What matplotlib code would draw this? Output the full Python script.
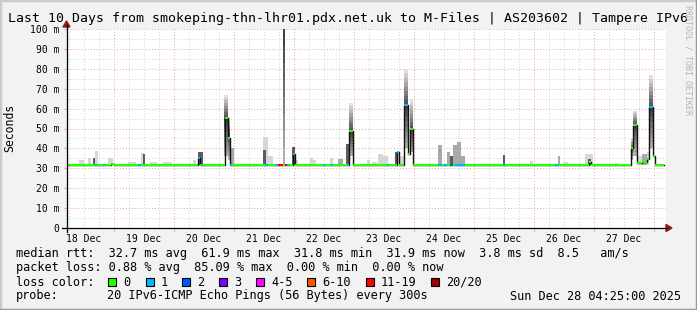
"""
SmokePing : 10 derniers jours, smokeping-thn-lhr01 -> M-Files (Tampere IPv6).
Fumee grise (dispersion des pings) + ligne mediane coloree selon la perte.
Sortie : out.png (697x310).
"""
import numpy as np
import matplotlib
matplotlib.use("Agg")
import matplotlib.pyplot as plt
from matplotlib.collections import LineCollection
from matplotlib.patches import Rectangle, Polygon

# axe x : heures depuis le 18 Dec 00:00
T_START, T_END = 5.0, 244.8
DATA_END = 244.0
DAYS = ["18 Dec", "19 Dec", "20 Dec", "21 Dec", "22 Dec",
        "23 Dec", "24 Dec", "25 Dec", "26 Dec", "27 Dec"]
MED_BASE = 31.5  # ms

# petites fumees : debut (h), fin (h), haut (ms), teinte
bump_start = [10.0, 13.6, 15.6, 16.4, 21.6, 29.6, 34.8, 35.6, 38.4, 43.6,
              55.6, 57.6, 70.4, 83.6, 83.6, 85.6, 95.2, 96.4, 102.4, 103.6,
              110.4, 113.6, 116.8, 125.2, 127.2, 129.6, 131.6, 136.4, 138.4, 153.6,
              157.2, 158.4, 159.6, 161.2, 162.8, 179.6, 190.4, 201.6, 203.6, 212.4,
              213.6, 224.4, 233.2, 235.2, 237.2]
bump_end = [12.0, 14.8, 16.4, 17.6, 23.6, 32.8, 36.0, 36.4, 41.2, 47.2,
            56.8, 59.6, 72.0, 85.6, 84.8, 87.6, 96.4, 97.6, 103.6, 104.8,
            111.6, 115.6, 118.0, 126.4, 129.2, 131.6, 133.6, 137.2, 140.0, 155.2,
            158.4, 159.6, 161.2, 162.8, 164.4, 180.4, 191.6, 202.4, 205.6, 215.6,
            214.8, 225.6, 235.2, 237.2, 238.0]
bump_top = [34.0, 35.3, 35.3, 38.5, 35.3, 33.2, 37.5, 37.0, 33.0, 33.0,
            34.0, 38.2, 40.0, 45.7, 39.0, 36.0, 40.7, 34.0, 35.0, 34.0,
            35.0, 34.5, 42.0, 34.0, 33.0, 37.0, 36.0, 38.0, 36.0, 41.5,
            38.0, 36.0, 41.5, 43.0, 36.0, 36.5, 33.5, 36.0, 33.0, 37.0,
            34.5, 32.5, 36.0, 37.0, 38.0]
bump_tone = ["light", "light", "dark", "light", "light", "light", "light", "dark", "light", "light",
             "light", "dark", "mid", "light", "dark", "light", "dark", "light", "light", "light",
             "light", "mid", "dark", "light", "light", "light", "light", "dark", "light", "mid",
             "mid", "dark", "mid", "mid", "mid", "dark", "light", "mid", "light", "light",
             "dark", "light", "light", "mid", "light"]

# grosses fumees : debut, fin, bas, coeur (sombre), haut
spike_start = [68.0, 69.6, 91.6, 118.0, 140.0, 142.4, 230.8, 231.6, 238.0]
spike_end = [69.6, 70.4, 92.4, 119.6, 141.6, 143.6, 231.6, 233.2, 239.6]
spike_lo = [36.0, 34.0, 31.5, 36.0, 40.0, 38.0, 34.0, 36.0, 40.0]
spike_core = [55.5, 48.0, 100.0, 48.5, 62.0, 49.5, 40.0, 52.0, 61.0]
spike_hi = [67.0, 56.0, 100.0, 63.0, 80.0, 65.0, 45.0, 59.0, 77.0]

# mediane hors ligne de base : debut, fin, valeur (ms), classe de perte
med_start = [16.4, 19.6, 22.8, 33.6, 57.6, 58.8, 68.4, 69.6, 70.4, 84.4,
             88.4, 89.6, 92.4, 93.2, 95.6, 107.6, 110.8, 117.2, 118.0, 133.2,
             137.2, 140.0, 141.6, 142.4, 153.6, 156.0, 158.4, 160.4, 179.6, 200.4,
             214.0, 230.8, 231.6, 233.2, 235.2, 237.2, 238.0, 239.6]
med_end = [17.2, 20.4, 24.0, 34.8, 58.4, 59.6, 69.6, 70.4, 71.2, 85.6,
           89.6, 91.6, 93.2, 94.0, 96.4, 108.4, 111.6, 118.0, 119.6, 134.0,
           138.0, 141.6, 142.4, 143.6, 155.2, 157.2, 159.6, 164.4, 180.4, 201.6,
           214.8, 231.6, 233.2, 235.2, 237.2, 238.0, 239.6, 240.4]
med_val = [31.5, 31.5, 32.3, 31.5, 35.0, 31.5, 55.5, 45.0, 31.5, 31.5,
           31.5, 31.5, 31.5, 31.5, 37.0, 31.5, 31.5, 31.5, 48.5, 31.5,
           38.0, 62.0, 37.0, 49.5, 31.5, 31.5, 31.5, 31.5, 31.5, 31.5,
           33.0, 40.0, 52.0, 32.5, 33.0, 34.5, 61.0, 36.0]
med_loss = [1, 1, 0, 1, 1, 1, 0, 0, 1, 1,
            1, 6, 6, 1, 1, 1, 1, 1, 0, 1,
            1, 1, 0, 0, 1, 1, 2, 1, 1, 1,
            0, 0, 0, 0, 0, 0, 1, 0]

LOSS_LABELS = ["0", "1", "2", "3", "4-5", "6-10", "11-19", "20/20"]
LOSS_COLORS = ["#26ff00", "#00b8ff", "#0059ff", "#7e00ff",
               "#ff00ff", "#ff5500", "#ff0000", "#a10000"]
LOSS_BOX_X = [108, 146, 182, 219, 256, 307, 366, 431]

TONES = {"light": "#d6d6d6", "mid": "#a9a9a9", "dark": "#5c5c5c"}

W, H = 697, 310
MONO = "DejaVu Sans Mono"
LEG = 8.55


def fx(x):
    return x / W


def fy(y):
    return 1 - y / H


fig = plt.figure(figsize=(W / 100, H / 100), dpi=100, facecolor="#f2f2f2")
ax = fig.add_axes([fx(66.5), fy(228), (666 - 66.5) / W, (228 - 29) / H])
ax.set_facecolor("white")
ax.set_xlim(T_START, T_END)
ax.set_ylim(0, 100)
for sp in ax.spines.values():
    sp.set_visible(False)

# grille
for h in np.arange(0, 250, 6):
    if T_START < h < T_END:
        major = h % 24 == 0
        ax.axvline(h, color="#f0a0a0" if major else "#d0d0d0", lw=0.7,
                   ls=(0, (1, 2)), zorder=0)
for v in range(5, 101, 5):
    major = v % 10 == 0
    ax.axhline(v, color="#f0a0a0" if major else "#d0d0d0", lw=0.7,
               ls=(0, (1, 2)), zorder=0)

# fumee
for s, e, top, tone in zip(bump_start, bump_end, bump_top, bump_tone):
    ax.bar(s, top - MED_BASE, width=e - s, bottom=MED_BASE, align="edge",
           color=TONES[tone], edgecolor="none", zorder=1)

n = 8
for s, e, lo, core, hi in zip(spike_start, spike_end, spike_lo, spike_core, spike_hi):
    ed = np.linspace(lo, core, n + 1)
    for k in range(n):
        g = 0.75 - 0.5 * (k + 1) / n
        ax.bar(s, ed[k + 1] - ed[k], width=e - s, bottom=ed[k], align="edge",
               color=(g, g, g), edgecolor="none", zorder=2)
    if hi > core:
        ed = np.linspace(core, hi, n + 1)
        for k in range(n):
            g = 0.25 + 0.63 * (k + 1) / n
            ax.bar(s, ed[k + 1] - ed[k], width=e - s, bottom=ed[k], align="edge",
                   color=(g, g, g), edgecolor="none", zorder=2)

# mediane
pieces = []
cur = T_START
for s, e, v, l in sorted(zip(med_start, med_end, med_val, med_loss)):
    if s > cur:
        pieces.append((cur, s, MED_BASE, 0))
    pieces.append((s, e, v, l))
    cur = e
pieces.append((cur, DATA_END, MED_BASE, 0))

xs, ys = [], []
for a, b, v, l in pieces:
    xs += [a, b]
    ys += [v, v]
ax.plot(xs, ys, color="#111111", lw=1.0, zorder=3)
segs = [[(a, v), (b, v)] for a, b, v, l in pieces]
cols = [LOSS_COLORS[l] for a, b, v, l in pieces]
ax.add_collection(LineCollection(segs, colors=cols, linewidths=1.5,
                                 capstyle="butt", zorder=4))

# axes
ax.set_yticks(range(0, 101, 10))
ax.set_yticklabels(["0"] + [f"{v} m" for v in range(10, 101, 10)],
                   family=MONO, fontsize=7)
ax.tick_params(axis="y", length=2, width=0.8, color="#f0a0a0", pad=3)
ax.set_xticks(np.arange(24, 241, 24))
ax.set_xticklabels([])
ax.set_xticks(np.arange(12, 240, 24), minor=True)
ax.set_xticklabels(DAYS, minor=True, family=MONO, fontsize=7)
ax.tick_params(axis="x", which="major", length=2, width=0.8, color="#f0a0a0")
ax.tick_params(axis="x", which="minor", length=0, pad=4)

fig.add_artist(plt.Line2D([fx(62), fx(667)], [fy(228), fy(228)], color="black", lw=0.9))
fig.add_artist(plt.Line2D([fx(66.5), fx(66.5)], [fy(232), fy(25)], color="black", lw=0.9))
fig.add_artist(Polygon([(fx(672), fy(228)), (fx(666), fy(224.5)), (fx(666), fy(231.5))],
                       closed=True, color="#8b1a1a", transform=fig.transFigure))
fig.add_artist(Polygon([(fx(66.5), fy(21)), (fx(63), fy(27)), (fx(70), fy(27))],
                       closed=True, color="#8b1a1a", transform=fig.transFigure))

# textes
fig.text(fx(8), fy(18.5), "Last 10 Days from smokeping-thn-lhr01.pdx.net.uk to M-Files"
         " | AS203602 | Tampere IPv6", family=MONO, fontsize=9.5, va="center")
fig.text(fx(10), fy(128), "Seconds", family=MONO, fontsize=8.3, rotation=90,
         ha="center", va="center")
fig.text(fx(688), fy(5), "RRDTOOL / TOBI OETIKER", family=MONO, fontsize=6,
         rotation=270, ha="center", va="top", color="#b4b4b4")

lines = [
    "median rtt:  32.7 ms avg  61.9 ms max  31.8 ms min  31.9 ms now  3.8 ms sd  8.5   am/s",
    "packet loss: 0.88 % avg  85.09 % max  0.00 % min  0.00 % now",
]
for i, t in enumerate(lines):
    fig.text(fx(16), fy(254 + 14 * i), t, family=MONO, fontsize=LEG, va="center")
fig.text(fx(16), fy(282), "loss color:", family=MONO, fontsize=LEG, va="center")
for bx, lab, col in zip(LOSS_BOX_X, LOSS_LABELS, LOSS_COLORS):
    fig.add_artist(Rectangle((fx(bx), fy(286)), 8 / W, 8 / H, facecolor=col,
                             edgecolor="black", lw=0.8, transform=fig.transFigure))
    fig.text(fx(bx + 15), fy(282), lab, family=MONO, fontsize=LEG, va="center")
fig.text(fx(16), fy(296), "probe:", family=MONO, fontsize=LEG, va="center")
fig.text(fx(107), fy(296), "20 IPv6-ICMP Echo Pings (56 Bytes) every 300s",
         family=MONO, fontsize=LEG, va="center")
fig.text(fx(681), fy(296), "Sun Dec 28 04:25:00 2025", family=MONO, fontsize=LEG,
         va="center", ha="right")

# cadre
fig.add_artist(plt.Line2D([0, 0, 1], [0, 1, 1], color="#cbcbcb", lw=2.5))
fig.add_artist(plt.Line2D([0, 1, 1], [0, 0, 1], color="#999999", lw=2.5))

fig.savefig("out.png", dpi=100, facecolor=fig.get_facecolor())
